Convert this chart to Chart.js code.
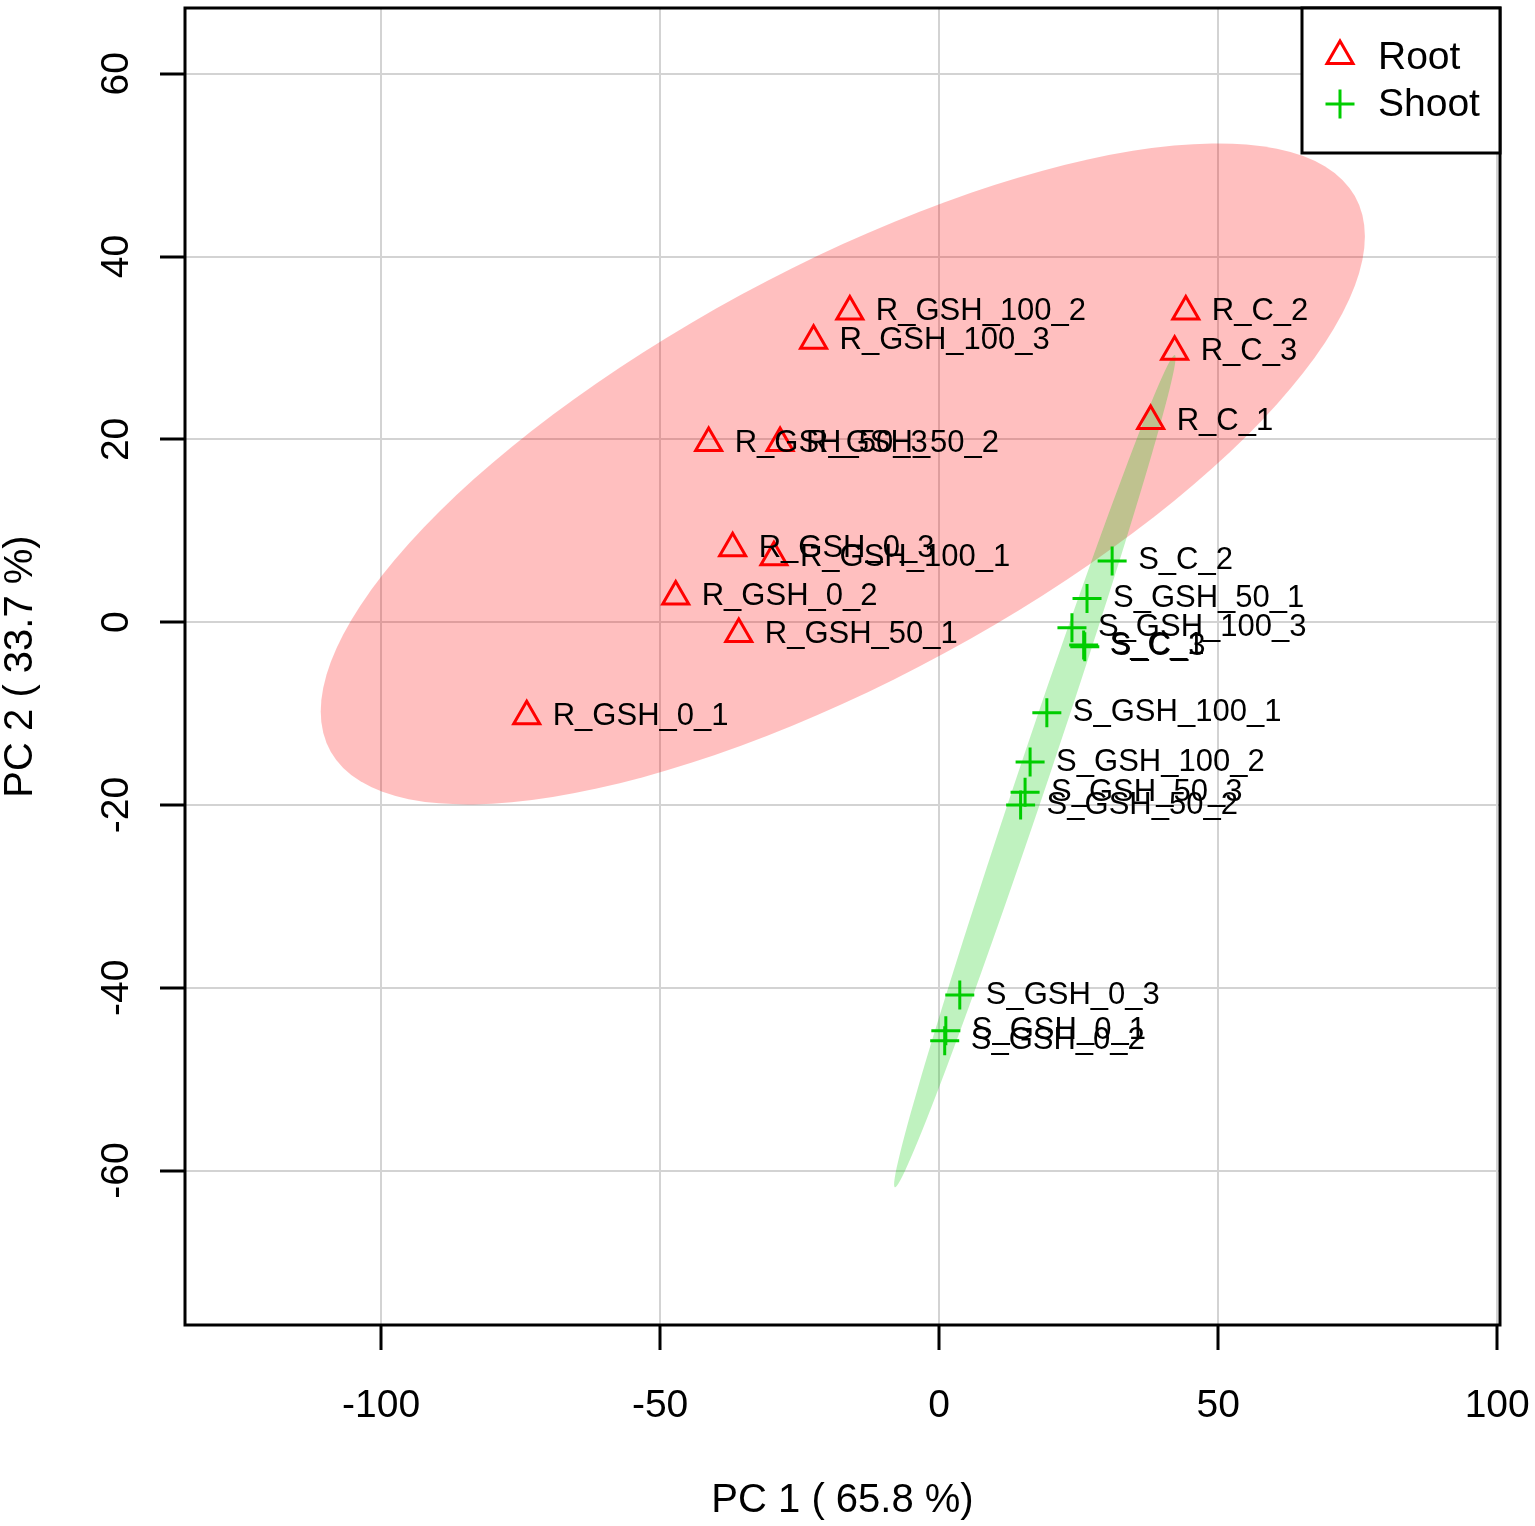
<!DOCTYPE html>
<html>
<head>
<meta charset="utf-8">
<title>PCA Root / Shoot</title>
<script src="https://cdn.jsdelivr.net/npm/chart.js@4.4.1/dist/chart.umd.min.js"></script>
<style>
  html, body { margin: 0; padding: 0; background: #fff; }
  #wrap { width: 1535px; height: 1526px; }
</style>
</head>
<body>
<div id="wrap"><canvas id="pca"></canvas></div>
<script>
// Samples and scores
const rootNames = ['R_C_1', 'R_C_2', 'R_C_3', 'R_GSH_0_1', 'R_GSH_0_2', 'R_GSH_0_3',
  'R_GSH_50_1', 'R_GSH_50_2', 'R_GSH_50_3', 'R_GSH_100_1', 'R_GSH_100_2', 'R_GSH_100_3'];
const rootPC1 = [37.9, 44.2, 42.2, -73.9, -47.2, -37.0, -35.9, -28.5, -41.3, -29.6, -16.0, -22.5];
const rootPC2 = [22.0, 34.0, 29.6, -10.3, 2.8, 8.1, -1.3, 19.6, 19.6, 7.1, 34.0, 30.8];

const shootNames = ['S_C_1', 'S_C_2', 'S_C_3', 'S_GSH_0_1', 'S_GSH_0_2', 'S_GSH_0_3',
  'S_GSH_50_1', 'S_GSH_50_2', 'S_GSH_50_3', 'S_GSH_100_1', 'S_GSH_100_2', 'S_GSH_100_3'];
const shootPC1 = [25.9, 31.0, 26.1, 1.2, 1.0, 3.7, 26.5, 14.6, 15.4, 19.3, 16.3, 23.8];
const shootPC2 = [-2.5, 6.7, -2.7, -44.7, -45.8, -40.8, 2.6, -20.0, -18.6, -9.9, -15.3, -0.6];

const xTicks = [-100, -50, 0, 50, 100];
const yTicks = [-60, -40, -20, 0, 20, 40, 60];

// Confidence ellipses: centre and two conjugate half-axes, in data units
const rootEllipseCenter = [-17.26, 16.22];
const rootEllipseAxisA = [93.55, 25.99];
const rootEllipseAxisB = [0, 25.15];
const shootEllipseCenter = [17.15, -16.29];
const shootEllipseAxisA = [25.09, 45.53];
const shootEllipseAxisB = [2.6, -0.53];

const RED = '#FF0000';
const GREEN = '#00CD00';
const FONT = '"Liberation Sans", Arial, sans-serif';

const toPoints = (xs, ys) => xs.map((v, i) => ({ x: v, y: ys[i] }));

const ellipsePlugin = {
  id: 'ellipses',
  beforeDatasetsDraw(chart) {
    const { ctx, chartArea, scales: { x, y } } = chart;
    const shapes = [
      [rootEllipseCenter, rootEllipseAxisA, rootEllipseAxisB, 'rgba(255,0,0,0.25)'],
      [shootEllipseCenter, shootEllipseAxisA, shootEllipseAxisB, 'rgba(0,205,0,0.25)']
    ];
    ctx.save();
    ctx.beginPath();
    ctx.rect(chartArea.left, chartArea.top, chartArea.width, chartArea.height);
    ctx.clip();
    shapes.forEach(([c, a, b, color]) => {
      const cx = x.getPixelForValue(c[0]);
      const cy = y.getPixelForValue(c[1]);
      const ax = x.getPixelForValue(c[0] + a[0]) - cx;
      const ay = y.getPixelForValue(c[1] + a[1]) - cy;
      const bx = x.getPixelForValue(c[0] + b[0]) - cx;
      const by = y.getPixelForValue(c[1] + b[1]) - cy;
      ctx.save();
      ctx.transform(ax, ay, bx, by, cx, cy);
      ctx.beginPath();
      ctx.arc(0, 0, 1, 0, Math.PI * 2);
      ctx.restore();
      ctx.fillStyle = color;
      ctx.fill();
    });
    ctx.restore();
  }
};

const labelPlugin = {
  id: 'pointLabels',
  afterDatasetsDraw(chart) {
    const ctx = chart.ctx;
    const names = [rootNames, shootNames];
    ctx.save();
    ctx.font = '31px ' + FONT;
    ctx.fillStyle = '#000';
    ctx.textAlign = 'left';
    ctx.textBaseline = 'middle';
    chart.data.datasets.forEach((ds, i) => {
      chart.getDatasetMeta(i).data.forEach((pt, j) => {
        ctx.fillText(names[i][j], pt.x + 26, pt.y);
      });
    });
    ctx.restore();
  }
};

function drawTriangle(ctx, x, y, r) {
  ctx.beginPath();
  ctx.moveTo(x, y - r);
  ctx.lineTo(x + Math.sin(2 * Math.PI / 3) * r, y + r / 2);
  ctx.lineTo(x - Math.sin(2 * Math.PI / 3) * r, y + r / 2);
  ctx.closePath();
  ctx.stroke();
}

const frameLegendPlugin = {
  id: 'frameLegend',
  afterDraw(chart) {
    const { ctx, chartArea: ca } = chart;
    ctx.save();
    // plot box
    ctx.strokeStyle = '#000';
    ctx.lineWidth = 3;
    ctx.strokeRect(ca.left, ca.top, ca.right - ca.left, ca.bottom - ca.top);

    // legend, top right corner
    const w = 198, h = 145;
    const lx = ca.right - w, ly = ca.top;
    ctx.fillStyle = '#fff';
    ctx.fillRect(lx, ly, w, h);
    ctx.strokeRect(lx, ly, w, h);

    ctx.lineWidth = 3;
    ctx.strokeStyle = RED;
    drawTriangle(ctx, lx + 38, ly + 48, 15);
    ctx.strokeStyle = GREEN;
    ctx.beginPath();
    ctx.moveTo(lx + 38 - 14.5, ly + 96); ctx.lineTo(lx + 38 + 14.5, ly + 96);
    ctx.moveTo(lx + 38, ly + 96 - 14.5); ctx.lineTo(lx + 38, ly + 96 + 14.5);
    ctx.stroke();

    ctx.fillStyle = '#000';
    ctx.font = '39px ' + FONT;
    ctx.textBaseline = 'middle';
    ctx.textAlign = 'left';
    ctx.fillText('Root', lx + 76, ly + 50);
    ctx.fillText('Shoot', lx + 76, ly + 97);
    ctx.restore();
  }
};

new Chart(document.getElementById('pca'), {
  type: 'scatter',
  data: {
    datasets: [
      {
        label: 'Root',
        data: toPoints(rootPC1, rootPC2),
        pointStyle: 'triangle',
        pointRadius: 15,
        pointBorderWidth: 3,
        pointBorderColor: RED,
        pointBackgroundColor: 'rgba(0,0,0,0)'
      },
      {
        label: 'Shoot',
        data: toPoints(shootPC1, shootPC2),
        pointStyle: 'cross',
        pointRadius: 14.5,
        pointBorderWidth: 3,
        pointBorderColor: GREEN,
        pointBackgroundColor: GREEN
      }
    ]
  },
  options: {
    responsive: true,
    maintainAspectRatio: false,
    animation: false,
    events: [],
    layout: { autoPadding: false, padding: { top: 8, right: 35, left: 0, bottom: 0 } },
    plugins: { legend: { display: false }, tooltip: { enabled: false } },
    scales: {
      x: {
        type: 'linear',
        min: -135.13,
        max: 100.5,
        afterBuildTicks: (scale) => { scale.ticks = xTicks.map(v => ({ value: v })); },
        afterFit: (scale) => { scale.height = 201; scale.paddingLeft = 0; scale.paddingRight = 0; },
        border: { display: false },
        grid: { color: '#D3D3D3', lineWidth: 2, tickColor: '#000', tickWidth: 3, tickLength: 25 },
        ticks: {
          color: '#000', font: { family: FONT, size: 39 }, padding: 33,
          minRotation: 0, maxRotation: 0, autoSkip: false,
          callback: (v) => String(v)
        },
        title: {
          display: true, text: 'PC 1 ( 65.8 %)', color: '#000',
          font: { family: FONT, size: 40, lineHeight: 1 }, padding: { top: 0, bottom: 5 }
        }
      },
      y: {
        type: 'linear',
        min: -76.9,
        max: 67.2,
        afterBuildTicks: (scale) => { scale.ticks = yTicks.map(v => ({ value: v })); },
        afterFit: (scale) => { scale.width = 185; scale.paddingTop = 0; scale.paddingBottom = 0; },
        border: { display: false },
        grid: { color: '#D3D3D3', lineWidth: 2, tickColor: '#000', tickWidth: 3, tickLength: 25 },
        ticks: {
          color: '#000', font: { family: FONT, size: 39 }, padding: 15,
          minRotation: 90, maxRotation: 90, autoSkip: false, crossAlign: 'center',
          callback: (v) => String(v)
        },
        title: {
          display: true, text: 'PC 2 ( 33.7 %)', color: '#000',
          font: { family: FONT, size: 40, lineHeight: 1 }, padding: { top: 1, bottom: 0 }
        }
      }
    }
  },
  plugins: [ellipsePlugin, labelPlugin, frameLegendPlugin]
});
</script>
</body>
</html>
